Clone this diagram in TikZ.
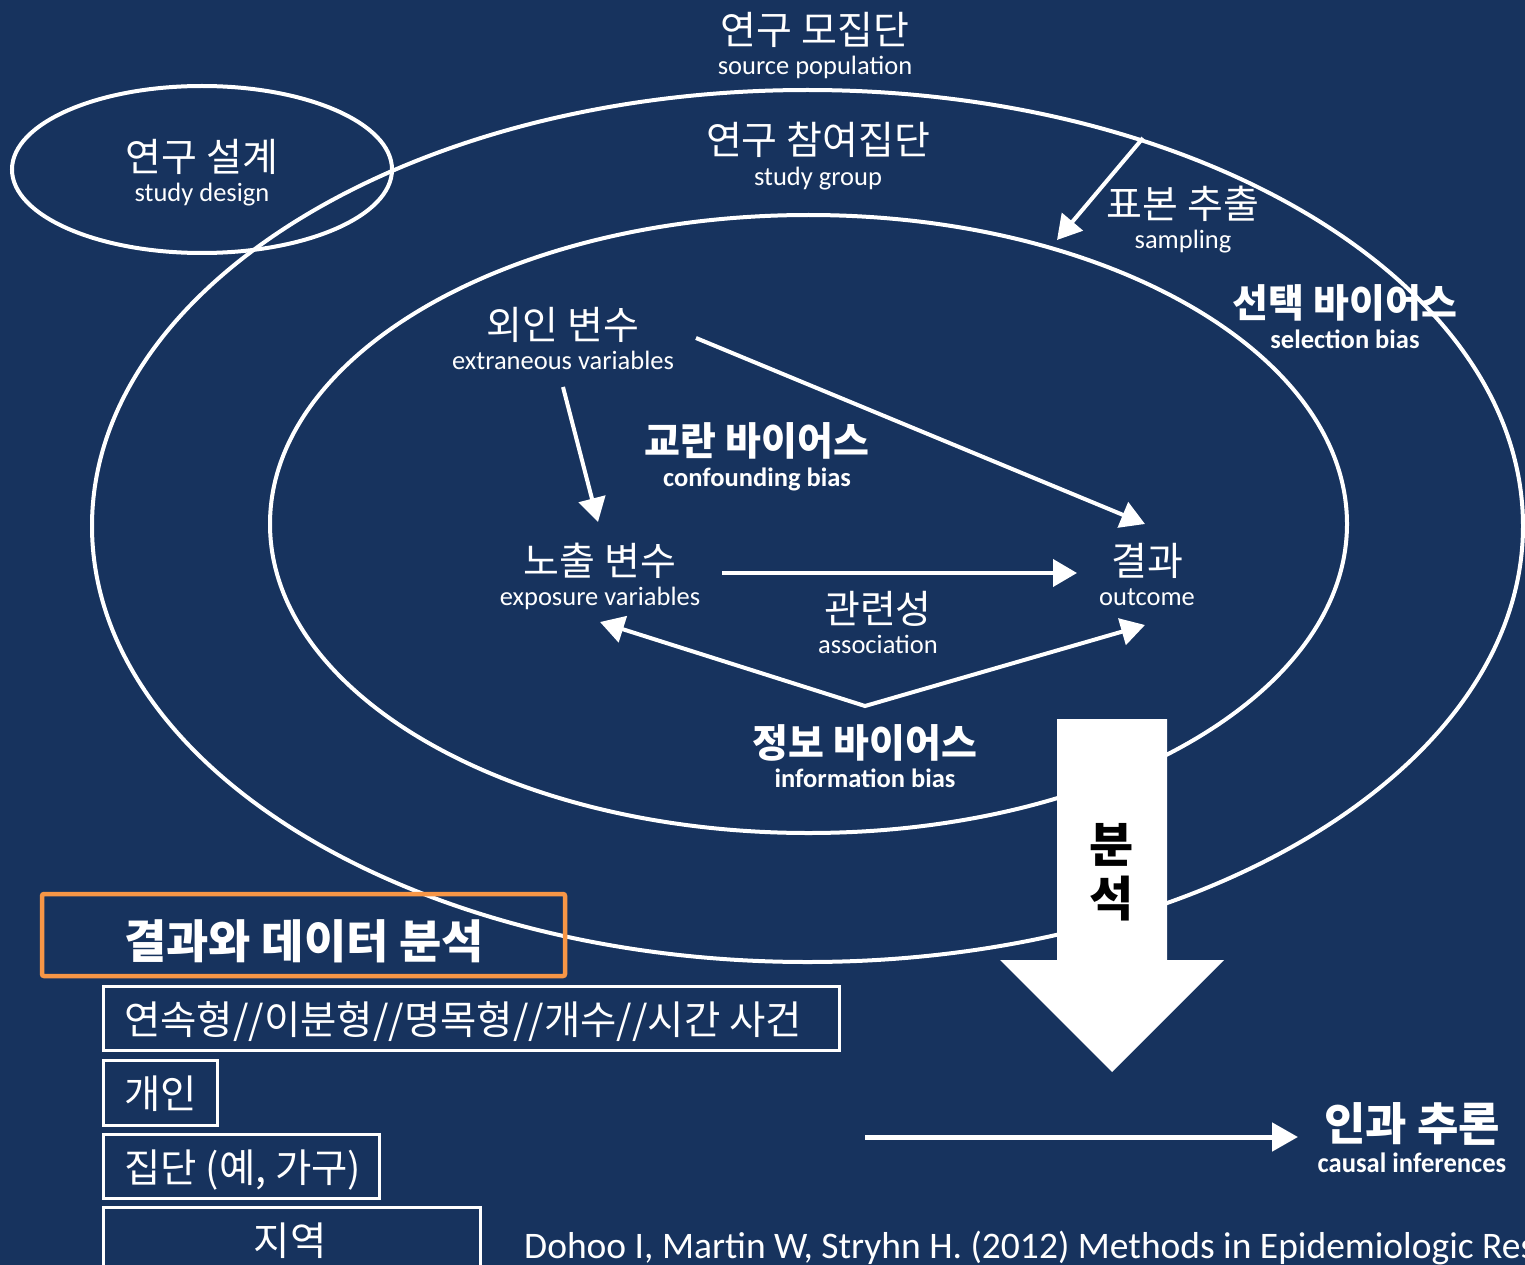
\documentclass[tikz,border=0pt]{standalone}
\usepackage{fontspec}
\setmainfont{Carlito}
\newfontfamily\kr{Noto Sans CJK KR}
\newfontfamily\enc{Carlito}[FakeStretch=0.95]
\usetikzlibrary{arrows.meta}
\definecolor{bg}{RGB}{23,51,94}
\definecolor{orng}{RGB}{247,150,70}
\tikzset{
  kt/.style={text=white, inner sep=0pt, anchor=base, font=\kr\fontsize{39}{42}\selectfont},
  ktb/.style={kt, font=\kr\bfseries\fontsize{39}{42}\selectfont},
  et/.style={text=white, inner sep=0pt, anchor=base, font=\fontsize{26.5}{30}\selectfont},
  etb/.style={et, font=\bfseries\fontsize{26.5}{30}\selectfont},
  ring/.style={draw=white, line width=4pt},
  arr/.style={draw=white, line width=4pt, -{Triangle[width=27pt,length=24pt]}},
  barr/.style={draw=white, line width=4pt, {Triangle[width=27pt,length=24pt]}-{Triangle[width=27pt,length=24pt]}},
  wbox/.style={draw=white, line width=2.5pt, inner sep=0pt, anchor=north west},
  lowt/.style={text=white, inner sep=0pt, font=\kr\fontsize{39.5}{42}\selectfont}
}
\begin{document}
\begin{tikzpicture}[x=1pt,y=-1pt]
\fill[bg] (0,0) rectangle (1525,1265);
\useasboundingbox (0,0) rectangle (1525,1265);
\clip (0,0) rectangle (1525,1265);

% ellipses
\draw[ring] (202,169.5) ellipse [x radius=190pt, y radius=83.5pt];
\draw[ring] (807.5,526) ellipse [x radius=715.5pt, y radius=436pt];
\draw[ring] (808.5,524) ellipse [x radius=538.5pt, y radius=309pt];

% labels
\node[kt] (popK) at (815,45) {연구 모집단};
\node[et] (popE) at (815,75) {source population};
\node[kt] (grpK) at (818,155) {연구 참여집단};
\node[et] (grpE) at (818,186) {study group};
\node[kt] (desK) at (202,172) {연구 설계};
\node[et] (desE) at (202,202) {study design};
\node[kt] (smpK) at (1183,219) {표본 추출};
\node[et] (smpE) at (1183,249) {sampling};
\node[ktb] (selK) at (1345,317) {선택 바이어스};
\node[etb] (selE) at (1345,348) {selection bias};
\node[kt] (extK) at (563,339) {외인 변수};
\node[et] (extE) at (563,369) {extraneous variables};
\node[ktb] (conK) at (757,455) {교란 바이어스};
\node[etb] (conE) at (757,486) {confounding bias};
\node[kt] (expK) at (600,575) {노출 변수};
\node[et] (expE) at (600,605) {exposure variables};
\node[kt] (outK) at (1147,575) {결과};
\node[et] (outE) at (1147,605) {outcome};
\node[kt] (assK) at (878,623) {관련성};
\node[et] (assE) at (878,653) {association};
\node[ktb] (infK) at (865,757) {정보 바이어스};
\node[etb] (infE) at (865,787) {information bias};

% arrow endpoints
\coordinate (smpA) at (1143,138);
\coordinate (smpB) at (1057,240);
\coordinate (ex1) at (563,387);
\coordinate (ex2) at (598,522);
\coordinate (ex3) at (696,338);
\coordinate (ou1) at (1145,524);
\coordinate (as1) at (722,573);
\coordinate (as2) at (1077,573);
\coordinate (ib1) at (600,622);
\coordinate (ibv) at (865,706);
\coordinate (ib2) at (1145,625);

\draw[arr] (smpA) -- (smpB);
\draw[arr] (ex1) -- (ex2);
\draw[arr] (ex3) -- (ou1);
\draw[arr] (as1) -- (as2);
\draw[barr] (ib1) -- (ibv) -- (ib2);

% big analysis arrow
\fill[white] (1057,719) -- (1167,719) -- (1167,960) -- (1224,960) -- (1112,1072) -- (1000,960) -- (1057,960) -- cycle;
\node[kt, text=black, font=\kr\bfseries\fontsize{48}{54}\selectfont] (an1) at (1112,862) {분};
\node[kt, text=black, font=\kr\bfseries\fontsize{48}{54}\selectfont] (an2) at (1112,916) {석};

% results box
\draw[orng, line width=4.5pt, rounded corners=2pt] (42,894) rectangle (565,976);
\node[kt, anchor=base west, font=\kr\bfseries\fontsize{46}{50}\selectfont] (resT) at (124,958) {결과와 데이터 분석};

\node[wbox, minimum width=736pt, minimum height=64pt] (b1) at (102,985) {};
\node[lowt, anchor=base west] (b1t) at (124,1034) {연속형//이분형//명목형//개수//시간 사건};
\node[wbox, minimum width=114pt, minimum height=65pt] (b2) at (102,1059) {};
\node[lowt, anchor=base west] (b2t) at (124,1108) {개인};
\node[wbox, minimum width=276pt, minimum height=64pt] (b3) at (102,1133) {};
\node[lowt, anchor=base west] (b3t) at (124,1182) {집단 (예, 가구)};
\node[wbox, minimum width=377pt, minimum height=80pt] (b4) at (102,1206) {};
\node[lowt, anchor=base] (b4t) at (290,1255) {지역};

% causal inference
\node[kt, font=\kr\bfseries\fontsize{45}{50}\selectfont] (cauK) at (1412,1140) {인과 추론};
\node[et, font=\enc\bfseries\fontsize{28}{30}\selectfont] (cauE) at (1412,1172) {causal inferences};
\coordinate (cauA) at (865,1137);
\coordinate (cauB) at (1298,1137);
\draw[draw=white, line width=5pt, -{Triangle[width=28pt,length=26pt]}] (cauA) -- (cauB);

\node[et, anchor=base west, font=\fontsize{37.5}{40}\selectfont] (ref) at (524,1258) {Dohoo I, Martin W, Stryhn H. (2012) Methods in Epidemiologic Res};
\end{tikzpicture}
\end{document}
